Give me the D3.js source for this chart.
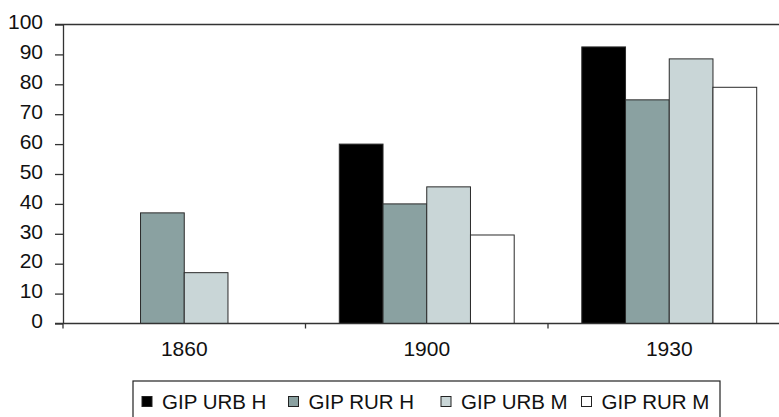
<!DOCTYPE html>
<html>
<head>
<meta charset="utf-8">
<script src="https://cdn.jsdelivr.net/npm/d3@7"></script>
<style>
  html, body { margin: 0; padding: 0; background: #fff; }
  svg { display: block; font-family: "Liberation Sans", Arial, Helvetica, sans-serif; }
</style>
</head>
<body>
<svg id="chart" width="779" height="417"></svg>
<script>
// Categories (census years) and series
const years = ["1860", "1900", "1930"];
const seriesNames = ["GIP URB H", "GIP RUR H", "GIP URB M", "GIP RUR M"];
const urbH = [null, 60, 92.5];
const rurH = [37, 40, 74.8];
const urbM = [17, 45.7, 88.5];
const rurM = [null, 29.6, 79];
const seriesColors = ["#000000", "#8aa1a1", "#c9d6d7", "#ffffff"];
const yTicks = [0, 10, 20, 30, 40, 50, 60, 70, 80, 90, 100];

const seriesValues = [urbH, rurH, urbM, rurM];

const svg = d3.select("#chart");
const axisColor = "#333";
const labelFont = "'Liberation Sans', Arial, sans-serif";

const plotLeft = 63, plotTop = 24.5, plotBottom = 323.5;
const bandW = 242.5;

const y = d3.scaleLinear().domain([0, 100]).range([plotBottom, plotTop]);
const x0 = d3.scaleBand().domain(years).range([plotLeft, plotLeft + bandW * years.length]).padding(0);
const groupPad = 33.8;
const x1 = d3.scaleBand().domain(seriesNames).range([groupPad, bandW - groupPad]).padding(0);

// Top border line at 100
svg.append("line")
  .attr("x1", plotLeft - 8).attr("x2", 779)
  .attr("y1", y(100)).attr("y2", y(100))
  .attr("stroke", axisColor).attr("stroke-width", 1.3);

// Bars
const rows = [];
years.forEach((yr, i) => {
  seriesNames.forEach((s, j) => {
    const v = seriesValues[j][i];
    if (v != null) rows.push({ year: yr, series: s, value: v, color: seriesColors[j] });
  });
});

svg.append("g").selectAll("rect")
  .data(rows)
  .join("rect")
  .attr("x", d => x0(d.year) + x1(d.series))
  .attr("y", d => y(d.value))
  .attr("width", x1.bandwidth())
  .attr("height", d => y(0) - y(d.value))
  .attr("fill", d => d.color)
  .attr("stroke", "#2a2a2a")
  .attr("stroke-width", 1);

// Y axis
const yAxis = svg.append("g")
  .attr("transform", `translate(${plotLeft},0)`)
  .call(d3.axisLeft(y).tickValues(yTicks).tickSize(8).tickSizeOuter(0).tickPadding(12))
  .attr("font-size", null).attr("font-family", null);
yAxis.select(".domain").attr("stroke", axisColor).attr("stroke-width", 1.3);
yAxis.selectAll(".tick line").attr("stroke", axisColor).attr("stroke-width", 1.3);
yAxis.selectAll(".tick text")
  .attr("fill", "#111")
  .style("font-size", "21px")
  .style("font-family", labelFont)
  .attr("dy", "0.2em");

// X axis: labels centred in each band, ticks at band boundaries
const xAxis = svg.append("g")
  .attr("transform", `translate(0,${plotBottom})`)
  .call(d3.axisBottom(x0).tickSize(0).tickPadding(18))
  .attr("font-size", null).attr("font-family", null);
xAxis.select(".domain").remove();
xAxis.selectAll(".tick text")
  .attr("fill", "#111")
  .style("font-size", "21px")
  .style("font-family", labelFont);

svg.append("line")
  .attr("x1", plotLeft - 8).attr("x2", 779)
  .attr("y1", plotBottom).attr("y2", plotBottom)
  .attr("stroke", axisColor).attr("stroke-width", 1.3);

svg.append("g").selectAll("line")
  .data(years)
  .join("line")
  .attr("x1", d => x0(d)).attr("x2", d => x0(d))
  .attr("y1", plotBottom).attr("y2", plotBottom + 5)
  .attr("stroke", axisColor).attr("stroke-width", 1.3);

// Legend
const legend = svg.append("g");
legend.append("rect")
  .attr("x", 133).attr("y", 381)
  .attr("width", 587).attr("height", 60)
  .attr("fill", "#fff").attr("stroke", "#222").attr("stroke-width", 1.2);

const legendX = [142, 288.5, 441, 581.5];
const items = legend.selectAll("g.item")
  .data(seriesNames)
  .join("g")
  .attr("class", "item")
  .attr("transform", (d, i) => `translate(${legendX[i]},0)`);

items.append("rect")
  .attr("x", 0).attr("y", 396.5)
  .attr("width", 10).attr("height", 10)
  .attr("fill", (d, i) => seriesColors[i])
  .attr("stroke", "#222").attr("stroke-width", 1);

items.append("text")
  .attr("x", 20).attr("y", 408.5)
  .style("font-size", "20.5px")
  .style("font-family", labelFont)
  .attr("fill", "#111")
  .text(d => d);
</script>
</body>
</html>
